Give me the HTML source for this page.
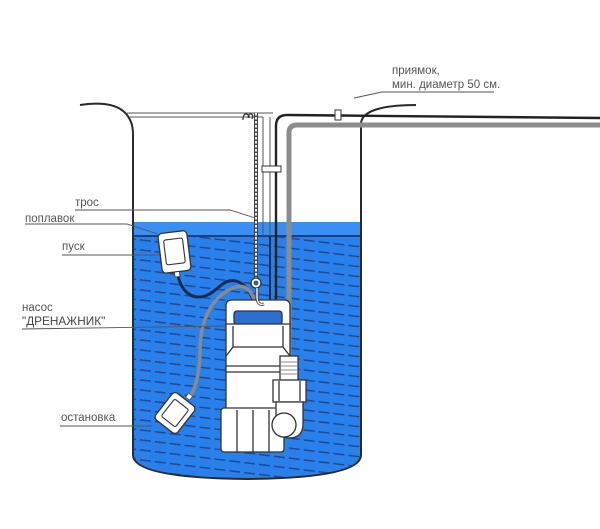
<!DOCTYPE html>
<html><head><meta charset="utf-8"><style>
html,body{margin:0;padding:0;background:#fff;}
svg{display:block}
text{font-family:"Liberation Sans",sans-serif;font-size:11.5px;fill:#555}
</style></head><body>
<svg width="600" height="529" viewBox="0 0 600 529" xmlns="http://www.w3.org/2000/svg">
<defs>
<clipPath id="deep"><path d="M133,237 H361 V455 Q361,478 247,479 Q133,478 133,455 Z"/></clipPath>
</defs>
<!-- water -->
<path d="M133,222 H361 V455 Q361,478 247,479 Q133,478 133,455 Z" fill="#2a80ea"/>
<rect x="133" y="222" width="228" height="14" fill="#3b8ff3"/>
<g clip-path="url(#deep)" stroke="#1d4a95" stroke-width="1.5" stroke-dasharray="11 4" fill="none">
<line x1="125" y1="218" x2="370" y2="248"/>
<line x1="125" y1="228" x2="370" y2="258"/>
<line x1="125" y1="238" x2="370" y2="268"/>
<line x1="125" y1="248" x2="370" y2="278"/>
<line x1="125" y1="258" x2="370" y2="288"/>
<line x1="125" y1="268" x2="370" y2="298"/>
<line x1="125" y1="278" x2="370" y2="308"/>
<line x1="125" y1="288" x2="370" y2="318"/>
<line x1="125" y1="298" x2="370" y2="328"/>
<line x1="125" y1="308" x2="370" y2="338"/>
<line x1="125" y1="318" x2="370" y2="348"/>
<line x1="125" y1="328" x2="370" y2="358"/>
<line x1="125" y1="338" x2="370" y2="368"/>
<line x1="125" y1="348" x2="370" y2="378"/>
<line x1="125" y1="358" x2="370" y2="388"/>
<line x1="125" y1="368" x2="370" y2="398"/>
<line x1="125" y1="378" x2="370" y2="408"/>
<line x1="125" y1="388" x2="370" y2="418"/>
<line x1="125" y1="398" x2="370" y2="428"/>
<line x1="125" y1="408" x2="370" y2="438"/>
<line x1="125" y1="418" x2="370" y2="448"/>
<line x1="125" y1="428" x2="370" y2="458"/>
<line x1="125" y1="438" x2="370" y2="468"/>
<line x1="125" y1="448" x2="370" y2="478"/>
<line x1="125" y1="458" x2="370" y2="488"/>
<line x1="125" y1="468" x2="370" y2="498"/>
</g>
<line x1="133" y1="236" x2="361" y2="236" stroke="#1b3f80" stroke-width="2"/>

<!-- tank outline -->
<path d="M80,105 Q92,103 104,104 C124,106 133,118 133,134 V455 Q133,478 247,479 Q361,478 361,455 V124 C361,111 382,105 416,105" fill="none" stroke="#2a2a2a" stroke-width="2"/>

<!-- rim lines -->
<line x1="127" y1="113" x2="273" y2="113" stroke="#555" stroke-width="1"/>
<line x1="130" y1="117" x2="263" y2="117" stroke="#555" stroke-width="1"/>
<!-- white tube -->
<line x1="263" y1="117" x2="263" y2="236" stroke="#555" stroke-width="1"/>
<line x1="270" y1="117" x2="270" y2="236" stroke="#555" stroke-width="1"/>

<!-- gray pipe -->
<path d="M600,125 H297 Q289,125 289,133 V358" fill="none" stroke="#8c8c8c" stroke-width="5"/>
<!-- black cable -->
<path d="M600,118 L340,115.5 L287,115 Q276,115 276,126 V300 Q276,310 268,318" fill="none" stroke="#222" stroke-width="2.4"/>
<line x1="270" y1="236" x2="270" y2="320" stroke="#1a2c4c" stroke-width="2"/>
<rect x="335" y="110" width="6" height="10" fill="#fff" stroke="#333" stroke-width="1"/>
<rect x="262" y="166" width="19" height="6" fill="#fff" stroke="#333" stroke-width="1"/>

<!-- chain -->
<line x1="256" y1="113" x2="256" y2="278" stroke="#444" stroke-width="4"/>
<line x1="256" y1="113" x2="256" y2="278" stroke="#fff" stroke-width="1.8" stroke-dasharray="2.5 1.5"/>
<path d="M243,120 q0,-6 3,-6 q3,0 3,4 M248,118 q1,-5 3,-4 q3,1 1,5" fill="none" stroke="#333" stroke-width="1.2"/>

<!-- float 1 cable -->
<path d="M178,276 C182,292 192,300 205,296 C218,292 222,278 236,281 C246,284 250,292 253,300" fill="none" stroke="#1a2c4c" stroke-width="3"/>
<!-- float 2 cable -->
<path d="M190,397 C197,385 200,370 200,350 C200,320 213,294 236,287 C246,284 252,292 254,300" fill="none" stroke="#8a8a8a" stroke-width="3.5"/>

<!-- float 1 -->
<g transform="rotate(-7 174 252)">
<rect x="160" y="232" width="29" height="40" rx="4" fill="#fff" stroke="#333" stroke-width="1.3"/>
<rect x="165" y="239" width="19" height="25" rx="2" fill="#fff" stroke="#333" stroke-width="1.1"/>
<rect x="172" y="272" width="5" height="5" fill="#fff" stroke="#333" stroke-width="0.8"/>
</g>
<!-- float 2 -->
<g transform="translate(175 413) rotate(38)">
<rect x="-14" y="-17" width="28" height="34" rx="4" fill="#fff" stroke="#333" stroke-width="1.3"/>
<rect x="-9" y="-11" width="18" height="22" rx="2" fill="#fff" stroke="#333" stroke-width="1.1"/>
</g>
<rect x="187" y="394" width="5" height="5" fill="#fff" stroke="#555" stroke-width="0.8" transform="rotate(38 189 396)"/>

<!-- pump -->
<g stroke="#333" stroke-width="1.3" fill="#fff">
<path d="M226,326 V306 Q226,300 232,300 H284 Q290,300 290,306 V326 Z"/>
<rect x="234" y="311" width="48" height="14" rx="3" fill="#2c6fd0"/>
<rect x="226" y="324" width="64" height="87"/>
<path d="M233,326 V347 L226,356 M283,326 V347 L290,356 M233,347 H283" fill="none"/>
<line x1="226" y1="366" x2="290" y2="366"/>
<line x1="226" y1="372" x2="290" y2="372"/>
<rect x="221" y="408" width="63" height="44" rx="3"/>
<line x1="237" y1="410" x2="237" y2="452"/>
<line x1="253" y1="410" x2="253" y2="452"/>
<line x1="269" y1="410" x2="269" y2="452"/>
<!-- outlet -->
<rect x="280" y="356" width="18" height="25"/>
<path d="M281,362 H297 M281,366 H297 M281,370 H297 M281,374 H297" stroke="#888" stroke-width="1"/>
<rect x="273" y="380" width="33" height="22"/>
<line x1="279" y1="381" x2="279" y2="401"/>
<line x1="300" y1="381" x2="300" y2="401"/>
<path d="M276,402 V424 Q276,438 289,438 Q303,438 303,424 V402 Z"/>
<circle cx="284" cy="425" r="12"/>
<!-- eye and hook -->
<circle cx="256" cy="283" r="5"/>
<circle cx="256" cy="283" r="2" fill="#2c6fd0" stroke-width="0.8"/>
</g>
<path d="M257,288 V296 Q257,306 264,304" fill="none" stroke="#333" stroke-width="3"/>
<path d="M257,288 V296 Q257,306 264,304" fill="none" stroke="#fff" stroke-width="1.4"/>

<!-- leaders -->
<g stroke="#555" stroke-width="0.9" fill="none">
<path d="M75,210 H230 L255,218"/>
<path d="M25,224 H127 L158,234"/>
<path d="M62,255 H160"/>
<path d="M22,329 L226,326"/>
<path d="M60,426 H152"/>
<path d="M354,98 L382,92 H494"/>
</g>

<!-- labels -->
<text x="75" y="206">трос</text>
<text x="25" y="222">поплавок</text>
<text x="62" y="250">пуск</text>
<text x="22" y="311">насос</text>
<text x="22" y="325" style="font-size:11.8px;fill:#444">"ДРЕНАЖНИК"</text>
<text x="61" y="421">остановка</text>
<text x="392" y="74">приямок,</text>
<text x="392" y="88">мин. диаметр 50 см.</text>
</svg>
</body></html>
